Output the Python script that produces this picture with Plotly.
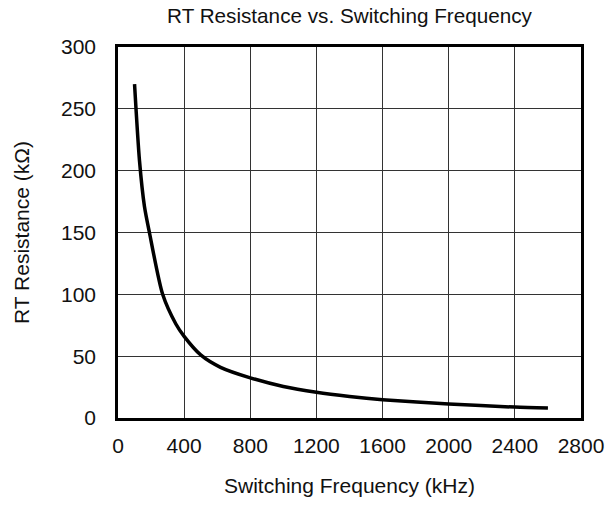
import plotly.graph_objects as go

freq_khz = [100, 130, 160, 190, 270, 350, 400, 500, 620, 800, 1000, 1200, 1400, 1600, 2000, 2400, 2600]
rt_kohm = [270, 208, 171, 150, 100, 76, 66, 51, 41, 32.5, 25.5, 20.8, 17.4, 14.8, 11.3, 8.8, 8.0]

x_ticks = [0, 400, 800, 1200, 1600, 2000, 2400, 2800]
y_ticks = [0, 50, 100, 150, 200, 250, 300]

FONT = "Liberation Sans, Arial, sans-serif"
FIG_W, FIG_H = 616, 507

fig = go.Figure()
fig.add_trace(go.Scatter(
    x=freq_khz, y=rt_kohm, mode="lines",
    line=dict(color="black", width=3.5, shape="spline", smoothing=0.7),
    showlegend=False, hoverinfo="skip",
))

fig.update_layout(
    width=FIG_W, height=FIG_H,
    margin=dict(l=118, r=26, t=47, b=81),
    paper_bgcolor="white", plot_bgcolor="white",
    font=dict(family=FONT, size=21, color="#111111"),
    title=dict(text="RT Resistance vs. Switching Frequency", xref="paper", x=0.5, xanchor="center",
               y=1 - 16 / FIG_H, yanchor="middle", font=dict(size=20.7, family=FONT, color="#111111")),
)
fig.update_xaxes(
    range=[0, 2800], tickvals=x_ticks, ticktext=[str(v) for v in x_ticks],
    showgrid=True, gridcolor="#333333", gridwidth=1,
    showline=True, linecolor="black", linewidth=2.5, mirror=True,
    ticks="outside", ticklen=7, tickcolor="white", zeroline=False,
    ticklabeloverflow="allow",
    tickfont=dict(size=21),
    title=dict(text="Switching Frequency (kHz)", font=dict(size=21), standoff=23),
)
fig.update_yaxes(
    range=[0, 300], tickvals=y_ticks, ticktext=[str(v) for v in y_ticks],
    showgrid=True, gridcolor="#333333", gridwidth=1,
    showline=True, linecolor="black", linewidth=2.5, mirror=True,
    ticks="outside", ticklen=15, tickcolor="white", zeroline=False,
    tickfont=dict(size=21),
    title=dict(text="RT Resistance (kΩ)", font=dict(size=21), standoff=26),
)

fig.write_html("out.html", config={"displayModeBar": False},
               post_script="document.body.style.margin='0';")
